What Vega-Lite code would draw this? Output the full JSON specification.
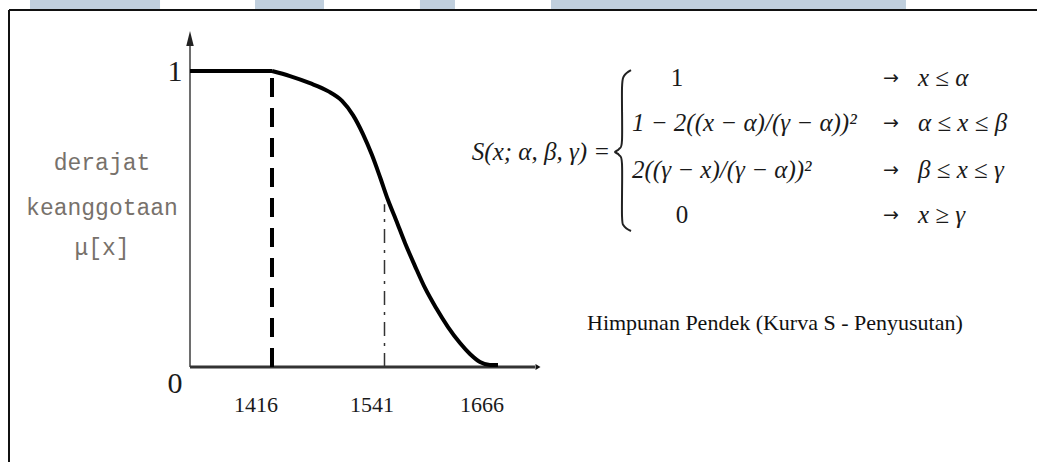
{
  "$schema": "https://vega.github.io/schema/vega-lite/v6.json",
  "width": 1037,
  "height": 462,
  "padding": 0,
  "autosize": {"type": "none"},
  "background": "white",
  "config": {"view": {"stroke": null}},
  "datasets": {
    "bands": [
      {"a": 1147.1, "b": 1291.6},
      {"a": 1397.1, "b": 1473.8},
      {"a": 1580.4, "b": 1619.3},
      {"a": 1726.0, "b": 2120.4}
    ],
    "frame": [
      {"x": 1123.78, "x2": 2266, "y": 1.2061, "y2": 1.2061},
      {"x": 1123.78, "x2": 1123.78, "y": 1.2061, "y2": -0.3209}
    ],
    "curve": [
      {"x": 1416.0, "mu": 1.0},
      {"x": 1436.0, "mu": 0.983},
      {"x": 1458.2, "mu": 0.959},
      {"x": 1478.2, "mu": 0.932},
      {"x": 1493.8, "mu": 0.899},
      {"x": 1506.0, "mu": 0.851},
      {"x": 1517.1, "mu": 0.787},
      {"x": 1527.1, "mu": 0.716},
      {"x": 1536.0, "mu": 0.642},
      {"x": 1544.9, "mu": 0.564},
      {"x": 1553.8, "mu": 0.497},
      {"x": 1563.8, "mu": 0.419},
      {"x": 1574.9, "mu": 0.341},
      {"x": 1586.0, "mu": 0.267},
      {"x": 1598.2, "mu": 0.2},
      {"x": 1611.6, "mu": 0.135},
      {"x": 1624.9, "mu": 0.081},
      {"x": 1636.0, "mu": 0.044},
      {"x": 1647.1, "mu": 0.017},
      {"x": 1658.2, "mu": 0.007},
      {"x": 1667.1, "mu": 0.007}
    ],
    "brace": [
      {"o": 1, "x": 1814.9, "y": 1.0034},
      {"o": 2, "x": 1807.1, "y": 0.983},
      {"o": 3, "x": 1804.9, "y": 0.9426},
      {"o": 4, "x": 1804.9, "y": 0.7669},
      {"o": 5, "x": 1801.6, "y": 0.7365},
      {"o": 6, "x": 1797.1, "y": 0.7264},
      {"o": 7, "x": 1801.6, "y": 0.7162},
      {"o": 8, "x": 1804.9, "y": 0.6858},
      {"o": 9, "x": 1804.9, "y": 0.5101},
      {"o": 10, "x": 1807.1, "y": 0.4764},
      {"o": 11, "x": 1814.9, "y": 0.4595}
    ]
  },
  "layer": [
    {
      "data": {"name": "bands"},
      "mark": {"type": "rect", "color": "#c0cfdd"},
      "encoding": {
        "x": {"field": "a", "type": "quantitative", "scale": {"domain": [1113.78, 2266], "nice": false, "zero": false}, "axis": null},
        "x2": {"field": "b"},
        "y": {"datum": 1.2399, "type": "quantitative", "scale": {"domain": [-0.3209, 1.2399], "nice": false, "zero": false}, "axis": null},
        "y2": {"datum": 1.2095}
      }
    },
    {
      "data": {"name": "frame"},
      "mark": {"type": "rule", "color": "#111111", "strokeWidth": 2},
      "encoding": {
        "x": {"field": "x", "type": "quantitative"},
        "x2": {"field": "x2"},
        "y": {"field": "y", "type": "quantitative"},
        "y2": {"field": "y2"}
      }
    },
    {
      "data": {"values": [{"x": 1324.89, "lo": 0, "hi": 1.09}]},
      "mark": {"type": "rule", "color": "#6e6e6e", "strokeWidth": 2},
      "encoding": {
        "x": {"field": "x", "type": "quantitative"},
        "y": {"field": "lo", "type": "quantitative"},
        "y2": {"field": "hi"}
      }
    },
    {
      "data": {"values": [{"from": 1324.89, "to": 1708.2, "mu": 0}]},
      "mark": {"type": "rule", "color": "#333333", "strokeWidth": 3},
      "encoding": {
        "x": {"field": "from", "type": "quantitative"},
        "x2": {"field": "to"},
        "y": {"field": "mu", "type": "quantitative"}
      }
    },
    {
      "data": {"values": [{"x": 1324.89, "mu": 1.1098}]},
      "mark": {"type": "point", "shape": "M0,-1L0.5,1L-0.5,1Z", "size": 225, "filled": true, "color": "#222222", "opacity": 1},
      "encoding": {
        "x": {"field": "x", "type": "quantitative"},
        "y": {"field": "mu", "type": "quantitative"}
      }
    },
    {
      "data": {"values": [{"x": 1711.56, "mu": 0}]},
      "mark": {"type": "point", "shape": "M1,0L-1,-1.2L-1,1.2Z", "size": 25, "filled": true, "color": "#111111", "opacity": 1},
      "encoding": {
        "x": {"field": "x", "type": "quantitative"},
        "y": {"field": "mu", "type": "quantitative"}
      }
    },
    {
      "data": {"values": [{"from": 1324.89, "to": 1416, "mu": 1}]},
      "mark": {"type": "rule", "color": "#000000", "strokeWidth": 4},
      "encoding": {
        "x": {"field": "from", "type": "quantitative"},
        "x2": {"field": "to"},
        "y": {"field": "mu", "type": "quantitative"}
      }
    },
    {
      "data": {"values": [{"x": 1416, "lo": 0, "hi": 1}]},
      "mark": {"type": "rule", "color": "#000000", "strokeWidth": 4, "strokeDash": [19, 11]},
      "encoding": {
        "x": {"field": "x", "type": "quantitative"},
        "y": {"field": "lo", "type": "quantitative"},
        "y2": {"field": "hi"}
      }
    },
    {
      "data": {"values": [{"x": 1541, "lo": 0, "hi": 0.55}]},
      "mark": {"type": "rule", "color": "#333333", "strokeWidth": 1.5, "strokeDash": [14, 7, 3, 7]},
      "encoding": {
        "x": {"field": "x", "type": "quantitative"},
        "y": {"field": "lo", "type": "quantitative"},
        "y2": {"field": "hi"}
      }
    },
    {
      "data": {"name": "curve"},
      "mark": {"type": "line", "color": "#000000", "strokeWidth": 4, "interpolate": "monotone"},
      "encoding": {
        "x": {"field": "x", "type": "quantitative"},
        "y": {"field": "mu", "type": "quantitative"}
      }
    },
    {
      "data": {"name": "brace"},
      "mark": {"type": "line", "color": "#222222", "strokeWidth": 2, "interpolate": "cardinal"},
      "encoding": {
        "x": {"field": "x", "type": "quantitative"},
        "y": {"field": "y", "type": "quantitative"},
        "order": {"field": "o", "type": "quantitative"}
      }
    },
    {
      "data": {"values": [{"x": 1308.2, "mu": 0.997, "t": "1"}, {"x": 1308.2, "mu": -0.057, "t": "0"}]},
      "mark": {"type": "text", "font": "Liberation Serif", "fontSize": 30, "align": "center", "baseline": "middle", "color": "#1a1a1a"},
      "encoding": {
        "x": {"field": "x", "type": "quantitative"},
        "y": {"field": "mu", "type": "quantitative"},
        "text": {"field": "t"}
      }
    },
    {
      "data": {"values": [{"x": 1398.2, "t": "1416"}, {"x": 1527.1, "t": "1541"}, {"x": 1649.3, "t": "1666"}]},
      "mark": {"type": "text", "font": "Liberation Serif", "fontSize": 22, "align": "center", "baseline": "middle", "color": "#1a1a1a"},
      "encoding": {
        "x": {"field": "x", "type": "quantitative"},
        "y": {"datum": -0.128, "type": "quantitative"},
        "text": {"field": "t"}
      }
    },
    {
      "data": {"values": [{"mu": 0.689, "t": "derajat"}, {"mu": 0.537, "t": "keanggotaan"}, {"mu": 0.402, "t": "μ[x]"}]},
      "mark": {"type": "text", "font": "Liberation Mono", "fontSize": 23, "align": "center", "baseline": "middle", "color": "#77716b"},
      "encoding": {
        "x": {"datum": 1227.1, "type": "quantitative"},
        "y": {"field": "mu", "type": "quantitative"},
        "text": {"field": "t"}
      }
    },
    {
      "data": {"values": [{"t": "S(x; α, β, γ) ="}]},
      "mark": {"type": "text", "font": "Liberation Serif", "fontStyle": "italic", "fontSize": 25, "align": "center", "baseline": "middle", "color": "#1a1a1a"},
      "encoding": {
        "x": {"datum": 1714.9, "type": "quantitative"},
        "y": {"datum": 0.726, "type": "quantitative"},
        "text": {"field": "t"}
      }
    },
    {
      "data": {"values": [{"mu": 0.824, "t": "1 − 2((x − α)/(γ − α))²"}, {"mu": 0.666, "t": "2((γ − x)/(γ − α))²"}]},
      "mark": {"type": "text", "font": "Liberation Serif", "fontStyle": "italic", "fontSize": 25, "align": "left", "baseline": "middle", "color": "#1a1a1a"},
      "encoding": {
        "x": {"datum": 1816.0, "type": "quantitative"},
        "y": {"field": "mu", "type": "quantitative"},
        "text": {"field": "t"}
      }
    },
    {
      "data": {"values": [{"x": 1866.0, "mu": 0.976, "t": "1"}, {"x": 1871.6, "mu": 0.514, "t": "0"}]},
      "mark": {"type": "text", "font": "Liberation Serif", "fontSize": 25, "align": "center", "baseline": "middle", "color": "#1a1a1a"},
      "encoding": {
        "x": {"field": "x", "type": "quantitative"},
        "y": {"field": "mu", "type": "quantitative"},
        "text": {"field": "t"}
      }
    },
    {
      "data": {"values": [{"mu": 0.976}, {"mu": 0.824}, {"mu": 0.666}, {"mu": 0.514}]},
      "mark": {"type": "text", "font": "DejaVu Sans", "fontSize": 19, "align": "center", "baseline": "middle", "color": "#1a1a1a", "text": "→"},
      "encoding": {
        "x": {"datum": 2103.8, "type": "quantitative"},
        "y": {"field": "mu", "type": "quantitative"}
      }
    },
    {
      "data": {"values": [{"mu": 0.976, "t": "x ≤ α"}, {"mu": 0.824, "t": "α ≤ x ≤ β"}, {"mu": 0.666, "t": "β ≤ x ≤ γ"}, {"mu": 0.514, "t": "x ≥ γ"}]},
      "mark": {"type": "text", "font": "Liberation Serif", "fontStyle": "italic", "fontSize": 25, "align": "left", "baseline": "middle", "color": "#1a1a1a"},
      "encoding": {
        "x": {"datum": 2133.8, "type": "quantitative"},
        "y": {"field": "mu", "type": "quantitative"},
        "text": {"field": "t"}
      }
    },
    {
      "data": {"values": [{"t": "Himpunan Pendek (Kurva S - Penyusutan)"}]},
      "mark": {"type": "text", "font": "Liberation Serif", "fontSize": 22, "align": "left", "baseline": "middle", "color": "#111111"},
      "encoding": {
        "x": {"datum": 1766.0, "type": "quantitative"},
        "y": {"datum": 0.149, "type": "quantitative"},
        "text": {"field": "t"}
      }
    }
  ]
}
